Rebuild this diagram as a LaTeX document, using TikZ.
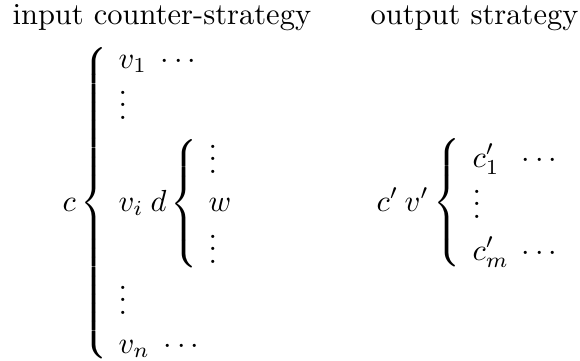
\documentclass[tikz,border=0pt]{standalone}
\newcommand{\brc}[1]{$\delimiterfactor=1000 \delimitershortfall=0pt \left\{\vrule height \dimexpr#1+2.5pt\relax depth \dimexpr#1-2.5pt\relax width 0pt\right.$}
\begin{document}
\begin{tikzpicture}[x=0.328pt,y=-0.328pt,
  lbl/.style={inner sep=0pt, anchor=base west},
  brace/.style={inner sep=0pt, anchor=center}]
\useasboundingbox (0,0) rectangle (580,360);
% titles
\node[lbl] (t1) at (12,24) {input counter-strategy};
\node[lbl] (t2) at (370,24) {output strategy};
% left part
\node[lbl] (c) at (62,211) {$c$};
\node[brace] (b1) at (96,203) {\brc{49pt}};
\node[lbl] (v1) at (118,68) {$v_1$};
\node[lbl] (d1) at (160,68) {$\cdots$};
\node[lbl] (vd1) at (118,119) {$\vdots$};
\node[lbl] (vi) at (118,211) {$v_i$};
\node[lbl] (d) at (150,211) {$d$};
\node[brace] (b2) at (186,204) {\brc{21pt}};
\node[lbl] (vd2) at (208,173) {$\vdots$};
\node[lbl] (w) at (208,211) {$w$};
\node[lbl] (vd3) at (208,263) {$\vdots$};
\node[lbl] (vd4) at (118,314) {$\vdots$};
\node[lbl] (vn) at (118,353) {$v_n$};
\node[lbl] (dn) at (163,353) {$\cdots$};
% right part
\node[lbl] (cp) at (376,211) {$c'$};
\node[lbl] (vp) at (404,211) {$v'$};
\node[brace] (b3) at (449,203) {\brc{20pt}};
\node[lbl] (c1) at (472,167) {$c'_1$};
\node[lbl] (dc1) at (521,167) {$\cdots$};
\node[lbl] (vd5) at (472,218) {$\vdots$};
\node[lbl] (cm) at (472,260) {$c'_m$};
\node[lbl] (dcm) at (521,260) {$\cdots$};
\end{tikzpicture}
\end{document}
